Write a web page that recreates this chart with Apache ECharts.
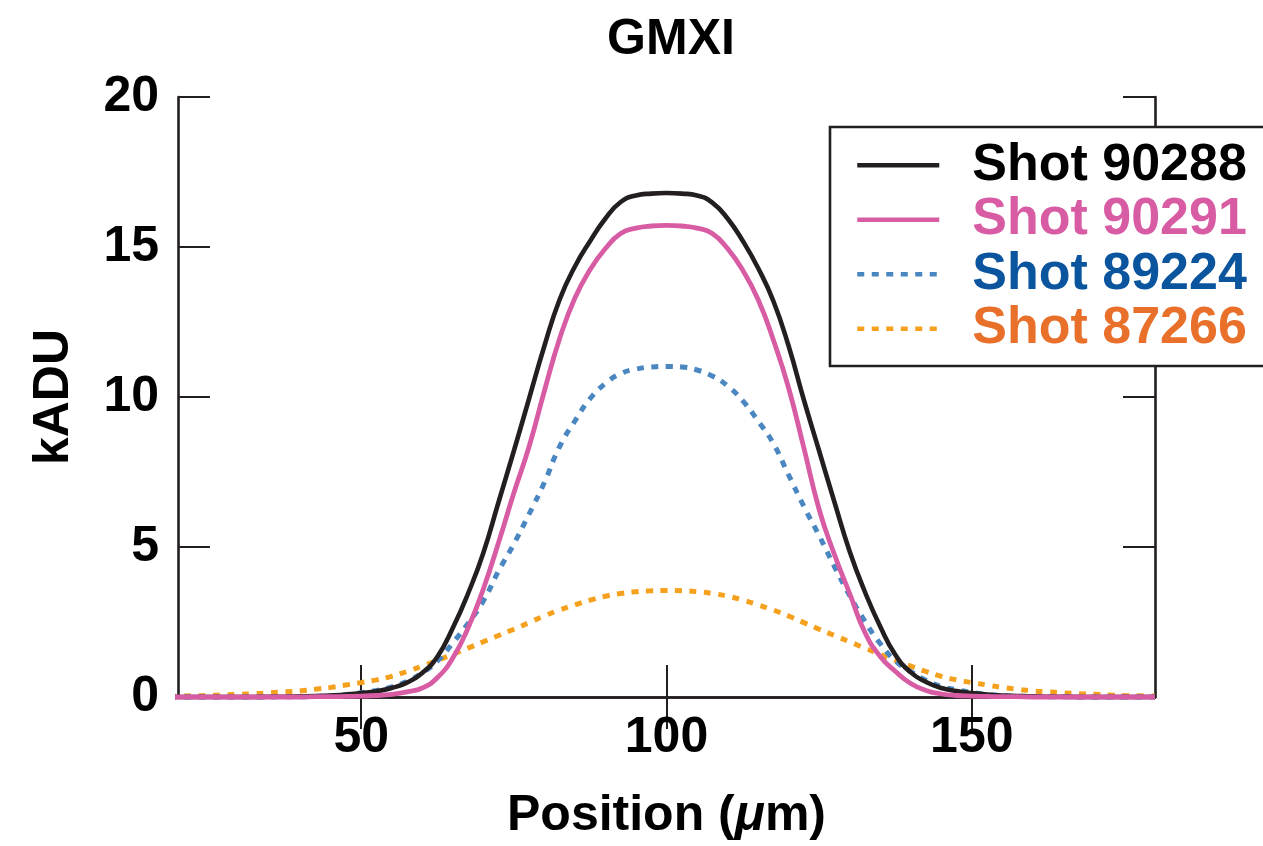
<!DOCTYPE html>
<html>
<head>
<meta charset="utf-8">
<title>GMXI</title>
<script src="https://cdn.jsdelivr.net/npm/echarts@6/dist/echarts.min.js"></script>
<style>
  html, body { margin: 0; padding: 0; background: #ffffff; }
  #chart { width: 1263px; height: 846px; }
</style>
</head>
<body>
<div id="chart"></div>
<script>
// Lineout positions (µm)
const positions = [
  18.6, 20, 22.5, 25, 27.5, 30, 32.5, 35, 37.5, 40, 42.5, 45, 47.5, 50, 52.5, 55, 57.5,
  60, 62.5, 65, 67.5, 70, 72.5, 75, 77.5, 80, 82.5, 85, 87.5, 90, 92.5, 95, 97.5,
  100,
  102.5, 105, 107.5, 110, 112.5, 115, 117.5, 120, 122.5, 125, 127.5, 130, 132.5, 135, 137.5, 140,
  142.5, 145, 147.5, 150, 152.5, 155, 157.5, 160, 162.5, 165, 167.5, 170, 172.5, 175, 177.5, 180
];

// Signal in kADU for each shot
const shot90288 = [
  0, 0, 0, 0, 0, 0, 0, 0.01, 0.01, 0.02, 0.03, 0.05, 0.08, 0.13, 0.19, 0.3, 0.48,
  0.8, 1.35, 2.3, 3.45, 4.8, 6.5, 8.2, 9.95, 11.7, 13.25, 14.35, 15.2, 15.95, 16.5, 16.72, 16.78,
  16.8,
  16.78, 16.72, 16.48, 15.95, 15.2, 14.3, 13.2, 11.7, 9.9, 8.2, 6.5, 4.85, 3.5, 2.35, 1.4, 0.82,
  0.5, 0.3, 0.2, 0.13, 0.08, 0.05, 0.03, 0.02, 0.01, 0.01, 0, 0, 0, 0, 0, 0
];
const shot90291 = [
  0, 0, 0, 0, 0, 0, 0, 0, 0, 0, 0.01, 0.01, 0.02, 0.03, 0.05, 0.09, 0.17,
  0.3, 0.65, 1.3, 2.3, 3.6, 5.15, 6.8, 8.35, 10.2, 11.95, 13.3, 14.25, 14.95, 15.45, 15.63, 15.7,
  15.72,
  15.7, 15.63, 15.45, 14.95, 14.22, 13.25, 11.9, 10.3, 8.3, 6.25, 4.75, 3.45, 2.15, 1.35, 0.85, 0.45,
  0.22, 0.1, 0.05, 0.03, 0.02, 0.01, 0.01, 0, 0, 0, 0, 0, 0, 0, 0, 0
];
const shot89224 = [
  0, 0, 0, 0, 0, 0, 0, 0, 0.01, 0.01, 0.02, 0.04, 0.08, 0.14, 0.22, 0.34, 0.52,
  0.8, 1.2, 1.8, 2.45, 3.2, 4.2, 5.1, 6.1, 7.15, 8.35, 9.2, 9.95, 10.45, 10.78, 10.93, 11.0,
  11.02,
  11.0, 10.9, 10.7, 10.37, 9.87, 9.2, 8.45, 7.4, 6.35, 5.38, 4.35, 3.38, 2.52, 1.78, 1.2, 0.85,
  0.55, 0.35, 0.24, 0.15, 0.09, 0.05, 0.03, 0.02, 0.01, 0.01, 0, 0, 0, 0, 0, 0
];
const shot87266 = [
  0.02, 0.03, 0.04, 0.05, 0.07, 0.09, 0.11, 0.14, 0.17, 0.2, 0.26, 0.32, 0.4, 0.48, 0.57, 0.69, 0.85,
  1.03, 1.22, 1.42, 1.63, 1.84, 2.05, 2.26, 2.48, 2.7, 2.9, 3.07, 3.23, 3.36, 3.45, 3.51, 3.54,
  3.55,
  3.54, 3.51, 3.45, 3.36, 3.23, 3.07, 2.9, 2.7, 2.48, 2.26, 2.05, 1.84, 1.63, 1.42, 1.22, 1.03,
  0.85, 0.69, 0.57, 0.48, 0.4, 0.32, 0.26, 0.2, 0.17, 0.14, 0.11, 0.09, 0.07, 0.05, 0.04, 0.03
];

const xTicks = [50, 100, 150];
const seriesNames = ['Shot 90288', 'Shot 90291', 'Shot 89224', 'Shot 87266'];

const FONT = "'Liberation Sans', Arial, Helvetica, sans-serif";
const INK = '#231f20';

const pairs = vals => positions.map((x, i) => [x, vals[i]]);

const chart = echarts.init(document.getElementById('chart'), null, { renderer: 'canvas' });

const frameAxisX = {
  type: 'value', min: 20, max: 180,
  axisLine: { show: true, lineStyle: { color: INK, width: 2.6 } },
  axisTick: { show: true, inside: true, length: 32, customValues: xTicks, lineStyle: { color: INK, width: 2 } },
  splitLine: { show: false }
};
const frameAxisY = {
  type: 'value', min: 0, max: 20, interval: 5,
  axisLine: { show: true, lineStyle: { color: INK, width: 2.6 } },
  axisTick: { show: true, inside: true, length: 32, lineStyle: { color: INK, width: 2 } },
  splitLine: { show: false }
};

const lineSeries = (name, vals, color, width, dash) => ({
  name, type: 'line', data: pairs(vals), symbol: 'none',
  smooth: 0.5, clip: false,
  itemStyle: { color },
  lineStyle: { color, width, type: dash || 'solid', cap: 'butt' }
});

chart.setOption({
  animation: false,
  backgroundColor: '#ffffff',
  title: {
    text: 'GMXI',
    left: 666,
    textAlign: 'center',
    top: 10,
    textStyle: { fontFamily: FONT, fontWeight: 'bold', fontSize: 50, color: '#000' }
  },
  grid: { left: 178, right: 108, top: 97, bottom: 146, containLabel: false },
  legend: {
    orient: 'vertical',
    left: 855,
    top: 138,
    z: 6,
    itemWidth: 82,
    itemHeight: 2,
    itemGap: 0,
    selectedMode: false,
    padding: 0,
    itemStyle: { opacity: 0 },
    lineStyle: { width: 4.5 },
    textStyle: { fontFamily: FONT, fontWeight: 'bold', fontSize: 52, lineHeight: 54.5, padding: [0, 0, 0, 28] },
    data: [
      { name: seriesNames[0], textStyle: { color: '#000000' } },
      { name: seriesNames[1], textStyle: { color: '#d85ca4' } },
      { name: seriesNames[2], textStyle: { color: '#0b559f' } },
      { name: seriesNames[3], textStyle: { color: '#e8702a' } }
    ]
  },
  graphic: [{
    type: 'rect',
    z: 5,
    shape: { x: 830, y: 127, width: 450, height: 239 },
    style: { fill: '#ffffff', stroke: INK, lineWidth: 2.6 }
  }],
  xAxis: [
    Object.assign({}, frameAxisX, {
      position: 'bottom',
      name: 'Position ({i|μ}m)',
      nameLocation: 'middle',
      nameGap: 94,
      nameTextStyle: {
        fontFamily: FONT, fontWeight: 'bold', fontSize: 50, color: '#000',
        rich: { i: { fontFamily: FONT, fontWeight: 'bold', fontStyle: 'italic', fontSize: 50, color: '#000' } }
      },
      axisLabel: {
        show: true, customValues: xTicks, margin: 16,
        fontFamily: FONT, fontWeight: 'bold', fontSize: 50, color: '#000'
      }
    }),
    Object.assign({}, frameAxisX, { position: 'top', axisLabel: { show: false } })
  ],
  yAxis: [
    Object.assign({}, frameAxisY, {
      position: 'left',
      name: 'kADU',
      nameLocation: 'middle',
      nameRotate: 90,
      nameGap: 99,
      nameTextStyle: { fontFamily: FONT, fontWeight: 'bold', fontSize: 50, color: '#000' },
      axisLabel: { show: true, margin: 19, fontFamily: FONT, fontWeight: 'bold', fontSize: 50, color: '#000' }
    }),
    Object.assign({}, frameAxisY, { position: 'right', axisLabel: { show: false } })
  ],
  series: [
    lineSeries(seriesNames[3], shot87266, '#f6a11e', 5, [7, 7.5]),
    lineSeries(seriesNames[2], shot89224, '#4a86c0', 5, [7, 7.5]),
    lineSeries(seriesNames[0], shot90288, INK, 4.6),
    lineSeries(seriesNames[1], shot90291, '#d85ca4', 4.8)
  ]
});
</script>
</body>
</html>
